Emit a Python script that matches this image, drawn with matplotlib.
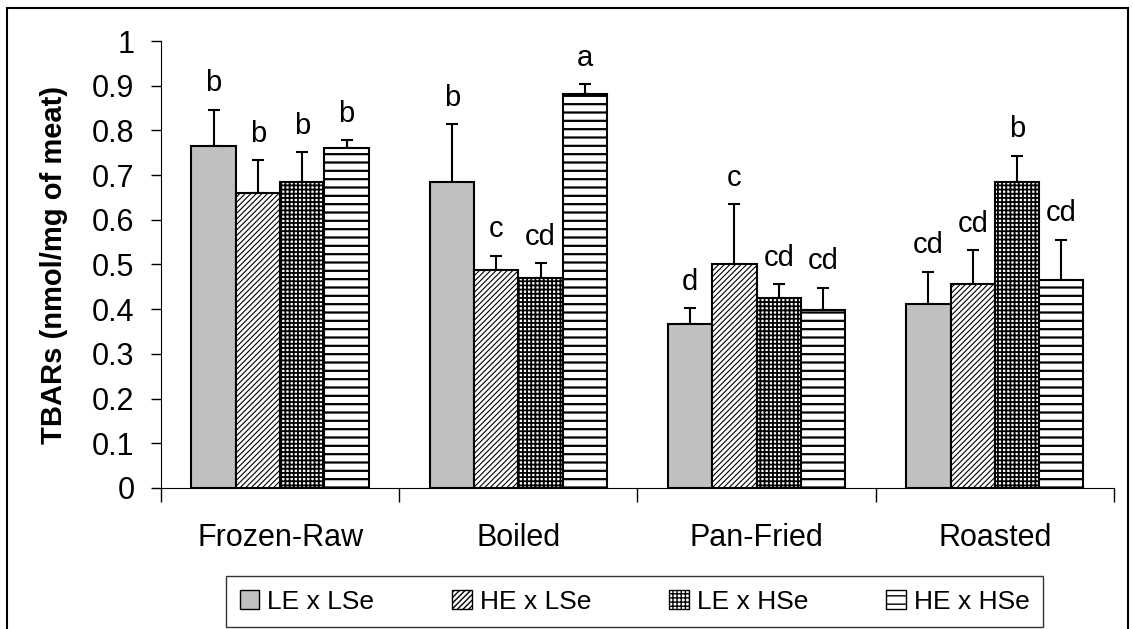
import numpy as np
import matplotlib
matplotlib.use("Agg")
import matplotlib.pyplot as plt
from matplotlib.patches import Rectangle, Patch

plt.rcParams['font.family'] = ['Liberation Sans', 'DejaVu Sans']

groups = ['Frozen-Raw', 'Boiled', 'Pan-Fried', 'Roasted']
series = ['LE x LSe', 'HE x LSe', 'LE x HSe', 'HE x HSe']

# bar heights and upper error (SE) per series
le_lse = [0.765, 0.684, 0.367, 0.412]
le_lse_err = [0.081, 0.130, 0.035, 0.072]
he_lse = [0.661, 0.488, 0.501, 0.456]
he_lse_err = [0.072, 0.031, 0.134, 0.076]
le_hse = [0.685, 0.470, 0.425, 0.684]
le_hse_err = [0.066, 0.033, 0.031, 0.059]
he_hse = [0.760, 0.881, 0.398, 0.465]
he_hse_err = [0.018, 0.022, 0.050, 0.090]

# significance letters
le_lse_lbl = ['b', 'b', 'd', 'cd']
he_lse_lbl = ['b', 'c', 'c', 'cd']
le_hse_lbl = ['b', 'cd', 'cd', 'b']
he_hse_lbl = ['b', 'a', 'cd', 'cd']

values = [le_lse, he_lse, le_hse, he_hse]
errors = [le_lse_err, he_lse_err, le_hse_err, he_hse_err]
letters = [le_lse_lbl, he_lse_lbl, le_hse_lbl, he_hse_lbl]
faces = ['#c0c0c0', 'white', 'white', 'white']
hatches = [None, '//////', '++++', '--']
hatch_lw = [1.0, 0.8, 1.3, 1.6]

fig = plt.figure(figsize=(11.33, 6.29), dpi=100)
ax = fig.add_axes([0.1421, 0.2242, 0.8411, 0.7106])

x = np.arange(len(groups)) + 0.5
w = 0.186
handles = []
for i in range(4):
    xs = x + (i - 1.5) * w
    with plt.rc_context({'hatch.linewidth': hatch_lw[i]}):
        ax.bar(xs, values[i], w, color=faces[i], edgecolor='black',
               hatch=hatches[i], linewidth=1.5, zorder=2)
        handles.append(Patch(facecolor=faces[i], edgecolor='black',
                             hatch=hatches[i], linewidth=1.0))
    ax.errorbar(xs, values[i], yerr=[np.zeros(4), errors[i]], fmt='none',
                ecolor='black', elinewidth=1.5, capsize=4.5, capthick=1.5, zorder=1)
    for xx, v, e, t in zip(xs, values[i], errors[i], letters[i]):
        ax.text(xx, v + e + 0.028, t, ha='center', va='bottom', fontsize=21)

ax.set_xlim(0, 4)
ax.set_ylim(0, 1)
ax.set_yticks(np.arange(0, 1.01, 0.1))
ax.set_yticklabels(['0', '0.1', '0.2', '0.3', '0.4', '0.5', '0.6', '0.7', '0.8', '0.9', '1'])
ax.set_xticks(x)
ax.set_xticklabels(groups)
ax.set_xticks(np.arange(0, 5), minor=True)
ax.tick_params(axis='x', which='major', length=0, pad=25, labelsize=22)
ax.tick_params(axis='x', which='minor', length=10, width=1, direction='out')
ax.tick_params(axis='y', length=7, width=1, direction='out', pad=12, labelsize=22)
ax.spines['top'].set_visible(False)
ax.spines['right'].set_visible(False)
ax.set_ylabel('TBARs (nmol/mg of meat)', fontsize=21, fontweight='bold')
ax.yaxis.set_label_coords(-0.098, 0.5)

leg = ax.legend(handles, series, loc='center', bbox_to_anchor=(0.560, 0.0437),
                bbox_transform=fig.transFigure, ncol=4, fontsize=19, frameon=True,
                fancybox=False, edgecolor='black', handlelength=0.75, handleheight=0.75,
                handletextpad=0.3, columnspacing=2.95, borderpad=0.5)
leg.get_frame().set_linewidth(1.0)

# outer chart border
fig.patches.append(Rectangle((0.006, -0.02), 0.9896, 1.007, transform=fig.transFigure,
                             fill=False, edgecolor='black', linewidth=1.5))

fig.savefig('out.png', dpi=100)
